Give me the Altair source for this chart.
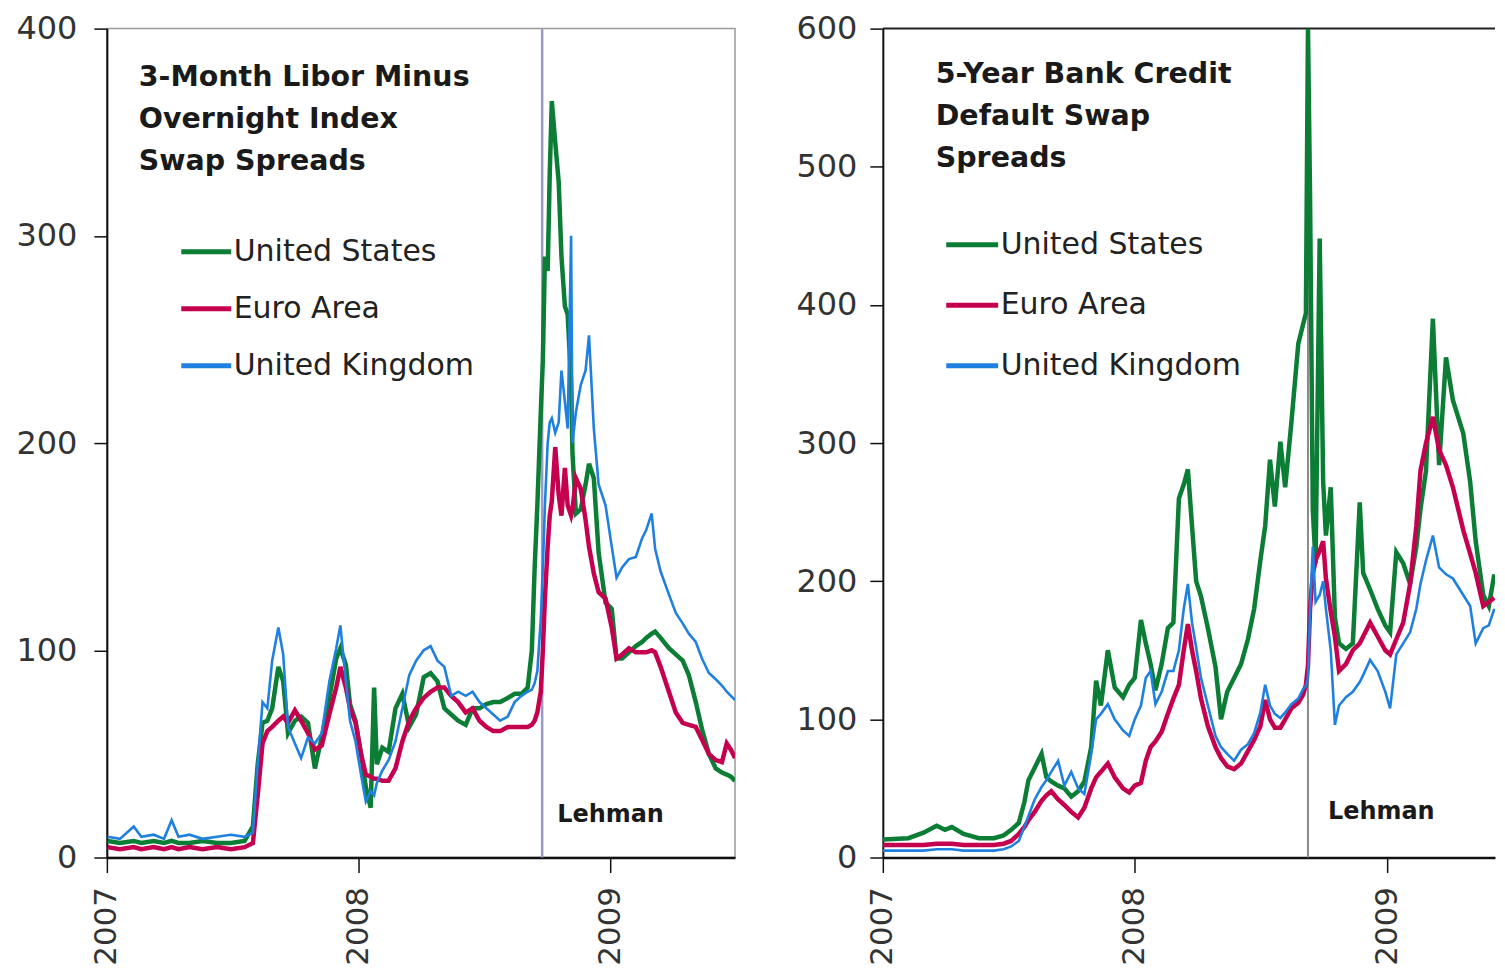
import altair as alt
import pandas as pd

SERIES = ["United States", "Euro Area", "United Kingdom"]
COLORS = ["#0b7d35", "#c5004f", "#1f80e0"]
LINE_WIDTHS = [4.5, 4.5, 2.6]
FONT = "DejaVu Sans"

# ---------------- Left panel: 3-month Libor minus OIS (bp) ----------------
L_DATES = [
    "2007-01-02", "2007-01-20", "2007-02-09", "2007-02-20", "2007-03-10", "2007-03-25",
    "2007-04-05", "2007-04-15", "2007-05-01", "2007-05-20", "2007-06-10", "2007-06-30",
    "2007-07-20", "2007-08-01", "2007-08-08", "2007-08-15", "2007-08-22", "2007-08-29",
    "2007-09-07", "2007-09-14", "2007-09-21", "2007-10-01", "2007-10-10", "2007-10-20",
    "2007-10-30", "2007-11-09", "2007-11-20", "2007-11-30", "2007-12-06", "2007-12-14",
    "2007-12-20", "2007-12-28", "2008-01-05", "2008-01-12", "2008-01-19", "2008-01-24",
    "2008-01-28", "2008-02-05", "2008-02-14", "2008-02-24", "2008-03-05", "2008-03-15",
    "2008-03-25", "2008-04-05", "2008-04-15", "2008-04-25", "2008-05-05", "2008-05-15",
    "2008-05-25", "2008-06-05", "2008-06-15", "2008-06-25", "2008-07-05", "2008-07-15",
    "2008-07-25", "2008-08-05", "2008-08-15", "2008-08-25", "2008-09-03", "2008-09-09",
    "2008-09-13", "2008-09-17", "2008-09-22", "2008-09-25", "2008-09-28", "2008-10-02",
    "2008-10-05", "2008-10-08", "2008-10-13", "2008-10-18", "2008-10-22", "2008-10-27",
    "2008-10-31", "2008-11-05", "2008-11-07", "2008-11-12", "2008-11-19", "2008-11-26",
    "2008-12-01", "2008-12-08", "2008-12-15", "2008-12-25", "2009-01-03", "2009-01-10",
    "2009-01-18", "2009-01-28", "2009-02-07", "2009-02-16", "2009-02-22", "2009-03-02",
    "2009-03-07", "2009-03-15", "2009-03-27", "2009-04-06", "2009-04-16", "2009-04-25",
    "2009-05-05", "2009-05-14", "2009-05-24", "2009-06-03", "2009-06-12", "2009-06-19",
    "2009-06-25", "2009-07-01",
]
L_US = [
    8, 7, 8, 7, 8, 7,
    8, 7, 7, 8, 7, 7,
    8, 15, 45, 65, 66, 72,
    92, 85, 60, 66, 68, 65,
    43, 58, 77, 96, 101, 93,
    74, 66, 50, 34, 24, 82,
    45, 53, 51, 72, 79, 63,
    69, 87, 89, 85, 72, 69,
    66, 64, 72, 72, 74, 75,
    75, 77, 79, 79, 82, 100,
    139, 170, 215, 240, 290, 283,
    330, 365, 345, 326, 290, 266,
    262, 230, 195, 166, 168, 180,
    190, 183, 147, 123, 120, 96,
    96, 99, 102, 104, 106, 108,
    109, 106, 101, 98, 95, 88,
    75, 62, 50, 43, 41, 40,
    39, 37,
]
L_EA = [
    5, 4, 5, 4, 5, 4,
    5, 4, 5, 4, 5, 4,
    5, 7, 30, 55, 61, 63,
    66, 68, 65, 71, 66, 60,
    52, 54, 69, 82, 92, 82,
    72, 65, 50, 40, 39, 38,
    38, 37, 37, 43, 56, 66,
    72, 77, 80, 82, 82, 78,
    75, 70, 72, 66, 63, 61,
    61, 63, 63, 63, 63, 64,
    66, 70, 80, 100, 125, 150,
    165, 172, 198, 175, 165, 188,
    170, 165, 168, 183, 178, 163,
    150, 137, 128, 125, 111, 96,
    98, 101, 99, 99, 99, 100,
    99, 92, 80, 70, 65, 64,
    63, 57, 50, 47, 46, 55,
    52, 48,
]
L_UK = [
    10, 9, 15, 10, 11, 9,
    18, 10, 11, 9, 10, 11,
    10, 12, 45, 75, 72, 95,
    111, 98, 63, 55, 48, 58,
    55, 60, 85, 101, 112, 85,
    66, 56, 40, 27, 32, 30,
    36, 42, 47, 56, 72, 88,
    95, 100, 102, 95, 92, 78,
    80, 78, 80, 75, 72, 69,
    66, 68, 75, 78, 80, 81,
    84, 90, 115, 140, 170, 200,
    210, 212, 205, 210, 235, 220,
    207, 300, 200, 215, 228, 235,
    252, 207, 180, 170, 150, 135,
    140, 144, 145, 154, 158, 166,
    149, 138, 127, 118, 113, 108,
    104, 96, 89, 86, 83, 80,
    78, 76,
]

# ---------------- Right panel: 5-year bank CDS spreads (bp) ----------------
R_DATES = [
    "2007-01-01", "2007-02-07", "2007-03-01", "2007-03-20", "2007-04-01", "2007-04-11",
    "2007-04-28", "2007-05-20", "2007-06-11", "2007-06-25", "2007-07-06", "2007-07-17",
    "2007-07-25", "2007-07-31", "2007-08-09", "2007-08-19", "2007-08-26", "2007-09-02",
    "2007-09-12", "2007-09-21", "2007-10-01", "2007-10-11", "2007-10-20", "2007-10-30",
    "2007-11-06", "2007-11-13", "2007-11-23", "2007-12-03", "2007-12-15", "2007-12-24",
    "2008-01-01", "2008-01-10", "2008-01-17", "2008-01-24", "2008-01-31", "2008-02-09",
    "2008-02-18", "2008-02-26", "2008-03-05", "2008-03-12", "2008-03-18", "2008-03-24",
    "2008-03-30", "2008-04-06", "2008-04-16", "2008-04-27", "2008-05-05", "2008-05-14",
    "2008-05-24", "2008-06-03", "2008-06-13", "2008-06-22", "2008-07-01", "2008-07-08",
    "2008-07-15", "2008-07-22", "2008-07-30", "2008-08-06", "2008-08-15", "2008-08-25",
    "2008-09-01", "2008-09-05", "2008-09-08", "2008-09-11", "2008-09-15", "2008-09-19",
    "2008-09-25", "2008-09-30", "2008-10-04", "2008-10-11", "2008-10-17", "2008-10-23",
    "2008-11-02", "2008-11-12", "2008-11-22", "2008-11-27", "2008-12-07", "2008-12-18",
    "2008-12-29", "2009-01-05", "2009-01-14", "2009-01-24", "2009-02-03", "2009-02-12",
    "2009-02-18", "2009-02-26", "2009-03-08", "2009-03-17", "2009-03-27", "2009-04-06",
    "2009-04-21", "2009-05-01", "2009-05-09", "2009-05-20", "2009-05-28", "2009-06-05",
]
R_US = [
    13, 14, 18, 23, 20, 22,
    17, 14, 14, 16, 20, 25,
    40, 56, 65, 75, 58, 55,
    52, 50, 44, 48, 55, 80,
    128, 110, 150, 123, 116, 125,
    130, 172, 155, 140, 121, 140,
    166, 170, 260, 270, 281, 240,
    200, 189, 166, 138, 100, 120,
    130, 140, 158, 180, 215, 240,
    288, 254, 301, 268, 315, 372,
    386, 394, 600, 480, 252, 213,
    448, 272, 233, 268, 174, 155,
    151, 155, 257, 206, 194, 180,
    168, 163, 221, 213, 198, 225,
    252, 280, 390, 284, 362, 331,
    307, 272, 229, 190, 182, 205,
]
R_EA = [
    9, 9, 9, 10, 10, 10,
    9, 9, 9, 10, 12, 17,
    22, 27, 33, 41, 45, 48,
    42, 38, 33, 29, 36, 50,
    58, 62, 68, 58, 50, 47,
    52, 54, 70, 80, 84, 91,
    104, 115, 125, 150, 169, 150,
    135, 115, 95, 80, 72, 66,
    64, 68, 77, 85, 95, 114,
    100, 94, 94, 100, 108, 112,
    118, 125, 139, 180, 205, 215,
    222, 229, 202, 178, 160, 135,
    140, 150, 155, 160, 170, 160,
    150, 147, 158, 170, 198, 240,
    280, 300, 319, 295, 284, 268,
    237, 220, 206, 182, 185, 188,
]
R_UK = [
    5, 5, 5, 6, 6, 6,
    5, 5, 5, 6, 8, 12,
    22, 30, 42, 51, 56, 62,
    70, 52, 62, 50, 46, 75,
    100, 104, 111, 100, 92, 88,
    100, 110, 130, 135, 111, 120,
    135, 135, 150, 180, 198, 170,
    152, 130, 110, 88, 80, 75,
    70, 78, 82, 90, 105, 125,
    110, 104, 101, 105, 111, 115,
    122, 124, 130, 178, 225, 185,
    190, 200, 180, 150, 96, 110,
    116, 120, 127, 132, 143, 135,
    120, 108, 147, 155, 163, 180,
    198, 215, 233, 210, 205, 202,
    190, 182, 155, 166, 168, 180,
]

L_TITLE = ["3-Month Libor Minus", "Overnight Index", "Swap Spreads"]
R_TITLE = ["5-Year Bank Credit", "Default Swap", "Spreads"]
L_YTICKS = [0, 100, 200, 300, 400]
R_YTICKS = [0, 100, 200, 300, 400, 500, 600]
YEAR_TICKS = [2007, 2008, 2009]
LEHMAN_L = ["2008-09-24"]
LEHMAN_R = ["2008-09-08"]
EVENT_LABEL = ["Lehman"]


def make_panel(dates, values, ymax, yticks, width, height, x_end, title_lines,
               title_x, title_y, leg_x, leg_y, leg_row_pad, leg_sym, lehman_date,
               lehman_color, lehman_width, lehman_dx, lehman_y, y_label_pad,
               top_border, view):
    frames = []
    for s, v in zip(SERIES, values):
        frames.append(pd.DataFrame({"date": dates, "value": v, "series": s}))
    df = pd.concat(frames, ignore_index=True)

    xs = alt.Scale(domain=[alt.DateTime(year=2007, month=1, date=1), x_end])
    ys = alt.Scale(domain=[0, ymax], nice=False)
    cs = alt.Scale(domain=SERIES, range=COLORS)

    x_axis = alt.Axis(
        values=[alt.DateTime(year=y, month=1, date=1) for y in YEAR_TICKS],
        format="%Y", labelAngle=270, labelFont=FONT, labelFontSize=31,
        labelColor="#333", labelPadding=14, tickSize=15, tickWidth=1.5,
        tickColor="#111", domainColor="#111", domainWidth=2.5, grid=False,
        title=None)
    y_axis = alt.Axis(
        values=yticks, labelFont=FONT, labelFontSize=32, labelColor="#333",
        labelPadding=y_label_pad, tickSize=13, tickWidth=1.5, tickColor="#111",
        domainColor="#111", domainWidth=2, grid=False, title=None)
    legend = alt.Legend(
        orient="none", legendX=leg_x, legendY=leg_y, title=None,
        symbolType="stroke", symbolSize=leg_sym * leg_sym, symbolStrokeWidth=5,
        labelFont=FONT, labelFontSize=30, labelColor="#222", labelOffset=0,
        labelLimit=500, rowPadding=leg_row_pad, padding=0, offset=0)

    X = alt.X("date:T", scale=xs, axis=x_axis)
    layers = []
    ev = pd.DataFrame({"date": lehman_date, "label": EVENT_LABEL})
    layers.append(
        alt.Chart(ev).mark_rule(color=lehman_color, strokeWidth=lehman_width)
        .encode(x=X))
    if top_border:
        layers.append(
            alt.Chart(ev).mark_rule(color="#222", strokeWidth=2)
            .encode(y=alt.Y(datum=ymax, type="quantitative", scale=ys, axis=y_axis)))
    for i, (s, w) in enumerate(zip(SERIES, LINE_WIDTHS)):
        layers.append(
            alt.Chart(df).transform_filter(alt.datum.series == s)
            .mark_line(strokeWidth=w, clip=True)
            .encode(
                x=X,
                y=alt.Y("value:Q", scale=ys, axis=y_axis),
                color=alt.Color("series:N", scale=cs, legend=legend)))
    layers.append(
        alt.Chart(ev).mark_text(align="left", baseline="middle", dx=lehman_dx,
                                font=FONT, fontSize=24, fontWeight="bold",
                                color="#1a1a1a")
        .encode(x=X, y=alt.value(lehman_y), text="label:N"))
    layers.append(
        alt.Chart(pd.DataFrame({"label": ["\n".join(title_lines)]}))
        .mark_text(align="left", baseline="alphabetic", lineBreak="\n",
                   lineHeight=42.5, font=FONT, fontSize=28.5, fontWeight="bold",
                   color="#1a1a1a")
        .encode(x=alt.value(title_x), y=alt.value(title_y), text="label:N"))

    return alt.layer(*layers).properties(width=width, height=height, view=view)


left = make_panel(
    L_DATES, [L_US, L_EA, L_UK], 400, L_YTICKS, 629, 830,
    alt.DateTime(year=2009, month=7, date=1), L_TITLE,
    32, 57, 72, 196, 14, 50, LEHMAN_L, "#9b9bc9", 2.5, 15, 787, 17, False,
    alt.ViewBackground(stroke="#9a9a9a", strokeWidth=1.5))
right = make_panel(
    R_DATES, [R_US, R_EA, R_UK], 600, R_YTICKS, 613, 830,
    alt.DateTime(year=2009, month=6, date=6), R_TITLE,
    53, 54, 61, 188, 16.5, 52, LEHMAN_R, "#8a8a8a", 2, 20, 784, 13, True,
    alt.ViewBackground(stroke="transparent"))

chart = (
    alt.hconcat(left, right, spacing=59)
    .resolve_scale(color="independent")
    .properties(padding={"left": 7, "top": 3, "right": 0, "bottom": 0},
                background="white")
)

chart.save("out.html", embed_options={"renderer": "svg", "actions": False})
